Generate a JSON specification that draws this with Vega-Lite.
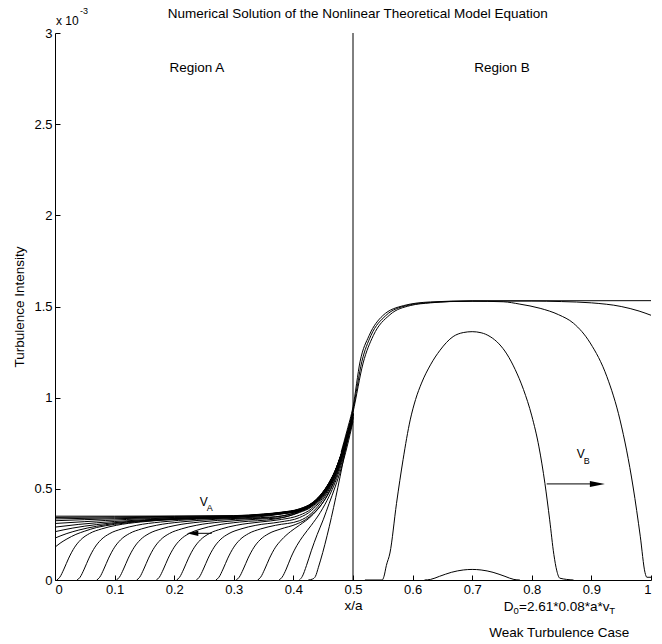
{
  "$schema": "https://vega.github.io/schema/vega-lite/v6.json",
  "width": 596,
  "height": 547,
  "autosize": "none",
  "padding": {"left": 55, "top": 33, "right": 11, "bottom": 64},
  "background": "white",
  "config": {
    "view": {"stroke": null},
    "font": "Liberation Sans",
    "axis": {
      "domainColor": "black", "tickColor": "black", "labelColor": "black", "titleColor": "black",
      "labelFont": "Liberation Sans", "labelFontSize": 13, "titleFont": "Liberation Sans",
      "titleFontSize": 13.5, "titleFontWeight": "normal", "grid": false, "domainWidth": 1, "tickWidth": 1
    },
    "text": {"font": "Liberation Sans", "fontSize": 13.5, "color": "black"}
  },
  "datasets": {
    "one": [{}],
    "curves": [
      {"s":"L9","x":0,"y":0.35},{"s":"L9","x":0.1,"y":0.35},{"s":"L9","x":0.2,"y":0.351},{"s":"L9","x":0.3,"y":0.353},{"s":"L9","x":0.35,"y":0.362},{"s":"L9","x":0.38,"y":0.372},{"s":"L9","x":0.41,"y":0.39},{"s":"L9","x":0.43,"y":0.42},{"s":"L9","x":0.445,"y":0.465},{"s":"L9","x":0.46,"y":0.535},{"s":"L9","x":0.47,"y":0.6},{"s":"L9","x":0.48,"y":0.69},{"s":"L9","x":0.49,"y":0.8},{"s":"L9","x":0.5,"y":0.915},
      {"s":"L8","x":0,"y":0.343},{"s":"L8","x":0.1,"y":0.346},{"s":"L8","x":0.2,"y":0.349},{"s":"L8","x":0.3,"y":0.352},{"s":"L8","x":0.35,"y":0.361},{"s":"L8","x":0.38,"y":0.371},{"s":"L8","x":0.41,"y":0.389},{"s":"L8","x":0.43,"y":0.419},{"s":"L8","x":0.445,"y":0.464},{"s":"L8","x":0.46,"y":0.534},{"s":"L8","x":0.47,"y":0.599},{"s":"L8","x":0.48,"y":0.689},{"s":"L8","x":0.49,"y":0.799},{"s":"L8","x":0.5,"y":0.914},
      {"s":"L7","x":0,"y":0.335},{"s":"L7","x":0.1,"y":0.341},{"s":"L7","x":0.2,"y":0.346},{"s":"L7","x":0.3,"y":0.35},{"s":"L7","x":0.35,"y":0.36},{"s":"L7","x":0.38,"y":0.37},{"s":"L7","x":0.41,"y":0.388},{"s":"L7","x":0.43,"y":0.418},{"s":"L7","x":0.445,"y":0.463},{"s":"L7","x":0.46,"y":0.533},{"s":"L7","x":0.47,"y":0.598},{"s":"L7","x":0.48,"y":0.688},{"s":"L7","x":0.49,"y":0.798},{"s":"L7","x":0.5,"y":0.913},
      {"s":"L6","x":0,"y":0.325},{"s":"L6","x":0.05,"y":0.331},{"s":"L6","x":0.1,"y":0.336},{"s":"L6","x":0.2,"y":0.343},{"s":"L6","x":0.3,"y":0.349},{"s":"L6","x":0.35,"y":0.359},{"s":"L6","x":0.38,"y":0.369},{"s":"L6","x":0.41,"y":0.387},{"s":"L6","x":0.43,"y":0.417},{"s":"L6","x":0.445,"y":0.462},{"s":"L6","x":0.46,"y":0.532},{"s":"L6","x":0.47,"y":0.597},{"s":"L6","x":0.48,"y":0.687},{"s":"L6","x":0.49,"y":0.797},{"s":"L6","x":0.5,"y":0.912},
      {"s":"L5","x":0,"y":0.31},{"s":"L5","x":0.05,"y":0.32},{"s":"L5","x":0.12,"y":0.332},{"s":"L5","x":0.2,"y":0.34},{"s":"L5","x":0.3,"y":0.347},{"s":"L5","x":0.35,"y":0.358},{"s":"L5","x":0.38,"y":0.368},{"s":"L5","x":0.41,"y":0.386},{"s":"L5","x":0.43,"y":0.416},{"s":"L5","x":0.445,"y":0.461},{"s":"L5","x":0.46,"y":0.531},{"s":"L5","x":0.47,"y":0.596},{"s":"L5","x":0.48,"y":0.686},{"s":"L5","x":0.49,"y":0.796},{"s":"L5","x":0.5,"y":0.911},
      {"s":"L4","x":0,"y":0.29},{"s":"L4","x":0.04,"y":0.305},{"s":"L4","x":0.1,"y":0.321},{"s":"L4","x":0.2,"y":0.337},{"s":"L4","x":0.3,"y":0.346},{"s":"L4","x":0.35,"y":0.357},{"s":"L4","x":0.38,"y":0.367},{"s":"L4","x":0.41,"y":0.385},{"s":"L4","x":0.43,"y":0.415},{"s":"L4","x":0.445,"y":0.46},{"s":"L4","x":0.46,"y":0.53},{"s":"L4","x":0.47,"y":0.595},{"s":"L4","x":0.48,"y":0.685},{"s":"L4","x":0.49,"y":0.795},{"s":"L4","x":0.5,"y":0.91},
      {"s":"L3","x":0,"y":0.265},{"s":"L3","x":0.03,"y":0.285},{"s":"L3","x":0.07,"y":0.304},{"s":"L3","x":0.12,"y":0.32},{"s":"L3","x":0.2,"y":0.335},{"s":"L3","x":0.3,"y":0.345},{"s":"L3","x":0.35,"y":0.356},{"s":"L3","x":0.38,"y":0.366},{"s":"L3","x":0.41,"y":0.384},{"s":"L3","x":0.43,"y":0.414},{"s":"L3","x":0.445,"y":0.459},{"s":"L3","x":0.46,"y":0.529},{"s":"L3","x":0.47,"y":0.594},{"s":"L3","x":0.48,"y":0.684},{"s":"L3","x":0.49,"y":0.794},{"s":"L3","x":0.5,"y":0.909},
      {"s":"L2","x":0,"y":0.23},{"s":"L2","x":0.02,"y":0.255},{"s":"L2","x":0.04,"y":0.274},{"s":"L2","x":0.07,"y":0.295},{"s":"L2","x":0.1,"y":0.31},{"s":"L2","x":0.15,"y":0.326},{"s":"L2","x":0.2,"y":0.335},{"s":"L2","x":0.3,"y":0.345},{"s":"L2","x":0.35,"y":0.355},{"s":"L2","x":0.38,"y":0.365},{"s":"L2","x":0.41,"y":0.383},{"s":"L2","x":0.43,"y":0.413},{"s":"L2","x":0.445,"y":0.458},{"s":"L2","x":0.46,"y":0.528},{"s":"L2","x":0.47,"y":0.593},{"s":"L2","x":0.48,"y":0.683},{"s":"L2","x":0.49,"y":0.793},{"s":"L2","x":0.5,"y":0.908},
      {"s":"L1","x":0,"y":0.18},{"s":"L1","x":0.01,"y":0.205},{"s":"L1","x":0.02,"y":0.225},{"s":"L1","x":0.035,"y":0.25},{"s":"L1","x":0.05,"y":0.268},{"s":"L1","x":0.07,"y":0.288},{"s":"L1","x":0.1,"y":0.305},{"s":"L1","x":0.14,"y":0.32},{"s":"L1","x":0.2,"y":0.333},{"s":"L1","x":0.3,"y":0.344},{"s":"L1","x":0.35,"y":0.354},{"s":"L1","x":0.38,"y":0.364},{"s":"L1","x":0.41,"y":0.382},{"s":"L1","x":0.43,"y":0.412},{"s":"L1","x":0.445,"y":0.457},{"s":"L1","x":0.46,"y":0.527},{"s":"L1","x":0.47,"y":0.592},{"s":"L1","x":0.48,"y":0.682},{"s":"L1","x":0.49,"y":0.792},{"s":"L1","x":0.5,"y":0.907},
      {"s":"F1","x":0.003,"y":0},{"s":"F1","x":0.008,"y":0.015},{"s":"F1","x":0.015,"y":0.06},{"s":"F1","x":0.023,"y":0.12},{"s":"F1","x":0.033,"y":0.18},{"s":"F1","x":0.043,"y":0.22},{"s":"F1","x":0.058,"y":0.255},{"s":"F1","x":0.078,"y":0.28},{"s":"F1","x":0.103,"y":0.3},{"s":"F1","x":0.143,"y":0.318},{"s":"F1","x":0.203,"y":0.333},{"s":"F1","x":0.303,"y":0.345},{"s":"F1","x":0.35,"y":0.353},{"s":"F1","x":0.38,"y":0.363},{"s":"F1","x":0.41,"y":0.381},{"s":"F1","x":0.43,"y":0.411},{"s":"F1","x":0.445,"y":0.456},{"s":"F1","x":0.46,"y":0.526},{"s":"F1","x":0.47,"y":0.591},{"s":"F1","x":0.48,"y":0.681},{"s":"F1","x":0.49,"y":0.791},{"s":"F1","x":0.5,"y":0.906},
      {"s":"F2","x":0.037,"y":0},{"s":"F2","x":0.042,"y":0.015},{"s":"F2","x":0.049,"y":0.06},{"s":"F2","x":0.057,"y":0.12},{"s":"F2","x":0.067,"y":0.18},{"s":"F2","x":0.077,"y":0.22},{"s":"F2","x":0.092,"y":0.255},{"s":"F2","x":0.112,"y":0.28},{"s":"F2","x":0.137,"y":0.3},{"s":"F2","x":0.177,"y":0.318},{"s":"F2","x":0.237,"y":0.333},{"s":"F2","x":0.337,"y":0.345},{"s":"F2","x":0.38,"y":0.362},{"s":"F2","x":0.41,"y":0.38},{"s":"F2","x":0.43,"y":0.41},{"s":"F2","x":0.445,"y":0.455},{"s":"F2","x":0.46,"y":0.525},{"s":"F2","x":0.47,"y":0.59},{"s":"F2","x":0.48,"y":0.68},{"s":"F2","x":0.49,"y":0.79},{"s":"F2","x":0.5,"y":0.905},
      {"s":"F3","x":0.07,"y":0},{"s":"F3","x":0.075,"y":0.015},{"s":"F3","x":0.082,"y":0.06},{"s":"F3","x":0.09,"y":0.12},{"s":"F3","x":0.1,"y":0.18},{"s":"F3","x":0.11,"y":0.22},{"s":"F3","x":0.125,"y":0.255},{"s":"F3","x":0.145,"y":0.28},{"s":"F3","x":0.17,"y":0.3},{"s":"F3","x":0.21,"y":0.318},{"s":"F3","x":0.27,"y":0.333},{"s":"F3","x":0.37,"y":0.347},{"s":"F3","x":0.41,"y":0.378},{"s":"F3","x":0.43,"y":0.408},{"s":"F3","x":0.445,"y":0.453},{"s":"F3","x":0.46,"y":0.523},{"s":"F3","x":0.47,"y":0.588},{"s":"F3","x":0.48,"y":0.678},{"s":"F3","x":0.49,"y":0.788},{"s":"F3","x":0.5,"y":0.903},
      {"s":"F4","x":0.103,"y":0},{"s":"F4","x":0.108,"y":0.015},{"s":"F4","x":0.115,"y":0.06},{"s":"F4","x":0.123,"y":0.12},{"s":"F4","x":0.133,"y":0.18},{"s":"F4","x":0.143,"y":0.22},{"s":"F4","x":0.158,"y":0.255},{"s":"F4","x":0.178,"y":0.28},{"s":"F4","x":0.203,"y":0.3},{"s":"F4","x":0.243,"y":0.318},{"s":"F4","x":0.303,"y":0.333},{"s":"F4","x":0.36,"y":0.342},{"s":"F4","x":0.41,"y":0.376},{"s":"F4","x":0.43,"y":0.406},{"s":"F4","x":0.445,"y":0.451},{"s":"F4","x":0.46,"y":0.521},{"s":"F4","x":0.47,"y":0.586},{"s":"F4","x":0.48,"y":0.676},{"s":"F4","x":0.49,"y":0.786},{"s":"F4","x":0.5,"y":0.901},
      {"s":"F5","x":0.137,"y":0},{"s":"F5","x":0.142,"y":0.015},{"s":"F5","x":0.149,"y":0.06},{"s":"F5","x":0.157,"y":0.12},{"s":"F5","x":0.167,"y":0.18},{"s":"F5","x":0.177,"y":0.22},{"s":"F5","x":0.192,"y":0.255},{"s":"F5","x":0.212,"y":0.28},{"s":"F5","x":0.237,"y":0.3},{"s":"F5","x":0.277,"y":0.318},{"s":"F5","x":0.337,"y":0.333},{"s":"F5","x":0.38,"y":0.342},{"s":"F5","x":0.41,"y":0.373},{"s":"F5","x":0.43,"y":0.403},{"s":"F5","x":0.445,"y":0.448},{"s":"F5","x":0.46,"y":0.518},{"s":"F5","x":0.47,"y":0.583},{"s":"F5","x":0.48,"y":0.673},{"s":"F5","x":0.49,"y":0.783},{"s":"F5","x":0.5,"y":0.898},
      {"s":"F6","x":0.17,"y":0},{"s":"F6","x":0.175,"y":0.015},{"s":"F6","x":0.182,"y":0.06},{"s":"F6","x":0.19,"y":0.12},{"s":"F6","x":0.2,"y":0.18},{"s":"F6","x":0.21,"y":0.22},{"s":"F6","x":0.225,"y":0.255},{"s":"F6","x":0.245,"y":0.28},{"s":"F6","x":0.27,"y":0.3},{"s":"F6","x":0.31,"y":0.318},{"s":"F6","x":0.37,"y":0.335},{"s":"F6","x":0.41,"y":0.37},{"s":"F6","x":0.43,"y":0.4},{"s":"F6","x":0.445,"y":0.445},{"s":"F6","x":0.46,"y":0.515},{"s":"F6","x":0.47,"y":0.58},{"s":"F6","x":0.48,"y":0.67},{"s":"F6","x":0.49,"y":0.78},{"s":"F6","x":0.5,"y":0.895},
      {"s":"F7","x":0.204,"y":0},{"s":"F7","x":0.209,"y":0.015},{"s":"F7","x":0.216,"y":0.06},{"s":"F7","x":0.224,"y":0.12},{"s":"F7","x":0.234,"y":0.18},{"s":"F7","x":0.244,"y":0.22},{"s":"F7","x":0.259,"y":0.255},{"s":"F7","x":0.279,"y":0.28},{"s":"F7","x":0.304,"y":0.3},{"s":"F7","x":0.344,"y":0.318},{"s":"F7","x":0.38,"y":0.332},{"s":"F7","x":0.41,"y":0.355},{"s":"F7","x":0.43,"y":0.39},{"s":"F7","x":0.445,"y":0.44},{"s":"F7","x":0.46,"y":0.51},{"s":"F7","x":0.47,"y":0.578},{"s":"F7","x":0.48,"y":0.668},{"s":"F7","x":0.49,"y":0.778},{"s":"F7","x":0.5,"y":0.893},
      {"s":"F8","x":0.237,"y":0},{"s":"F8","x":0.242,"y":0.015},{"s":"F8","x":0.249,"y":0.06},{"s":"F8","x":0.257,"y":0.12},{"s":"F8","x":0.267,"y":0.18},{"s":"F8","x":0.277,"y":0.22},{"s":"F8","x":0.292,"y":0.255},{"s":"F8","x":0.312,"y":0.28},{"s":"F8","x":0.337,"y":0.3},{"s":"F8","x":0.377,"y":0.318},{"s":"F8","x":0.41,"y":0.342},{"s":"F8","x":0.43,"y":0.38},{"s":"F8","x":0.445,"y":0.432},{"s":"F8","x":0.46,"y":0.505},{"s":"F8","x":0.47,"y":0.574},{"s":"F8","x":0.48,"y":0.665},{"s":"F8","x":0.49,"y":0.776},{"s":"F8","x":0.5,"y":0.892},
      {"s":"F9","x":0.27,"y":0},{"s":"F9","x":0.275,"y":0.015},{"s":"F9","x":0.282,"y":0.06},{"s":"F9","x":0.29,"y":0.12},{"s":"F9","x":0.3,"y":0.18},{"s":"F9","x":0.31,"y":0.22},{"s":"F9","x":0.325,"y":0.255},{"s":"F9","x":0.345,"y":0.28},{"s":"F9","x":0.37,"y":0.3},{"s":"F9","x":0.41,"y":0.325},{"s":"F9","x":0.43,"y":0.365},{"s":"F9","x":0.445,"y":0.42},{"s":"F9","x":0.46,"y":0.497},{"s":"F9","x":0.47,"y":0.568},{"s":"F9","x":0.48,"y":0.66},{"s":"F9","x":0.49,"y":0.772},{"s":"F9","x":0.5,"y":0.89},
      {"s":"F10","x":0.304,"y":0},{"s":"F10","x":0.309,"y":0.015},{"s":"F10","x":0.316,"y":0.06},{"s":"F10","x":0.324,"y":0.12},{"s":"F10","x":0.334,"y":0.18},{"s":"F10","x":0.344,"y":0.22},{"s":"F10","x":0.359,"y":0.255},{"s":"F10","x":0.379,"y":0.28},{"s":"F10","x":0.404,"y":0.305},{"s":"F10","x":0.42,"y":0.33},{"s":"F10","x":0.435,"y":0.37},{"s":"F10","x":0.445,"y":0.405},{"s":"F10","x":0.46,"y":0.485},{"s":"F10","x":0.47,"y":0.558},{"s":"F10","x":0.48,"y":0.652},{"s":"F10","x":0.49,"y":0.766},{"s":"F10","x":0.5,"y":0.887},
      {"s":"F11","x":0.34,"y":0},{"s":"F11","x":0.345,"y":0.015},{"s":"F11","x":0.352,"y":0.06},{"s":"F11","x":0.36,"y":0.12},{"s":"F11","x":0.37,"y":0.18},{"s":"F11","x":0.38,"y":0.22},{"s":"F11","x":0.395,"y":0.265},{"s":"F11","x":0.41,"y":0.3},{"s":"F11","x":0.43,"y":0.35},{"s":"F11","x":0.445,"y":0.405},{"s":"F11","x":0.46,"y":0.48},{"s":"F11","x":0.47,"y":0.55},{"s":"F11","x":0.48,"y":0.645},{"s":"F11","x":0.49,"y":0.76},{"s":"F11","x":0.5,"y":0.885},
      {"s":"F12","x":0.376,"y":0},{"s":"F12","x":0.381,"y":0.015},{"s":"F12","x":0.388,"y":0.06},{"s":"F12","x":0.396,"y":0.125},{"s":"F12","x":0.406,"y":0.19},{"s":"F12","x":0.416,"y":0.24},{"s":"F12","x":0.43,"y":0.3},{"s":"F12","x":0.445,"y":0.37},{"s":"F12","x":0.46,"y":0.46},{"s":"F12","x":0.47,"y":0.535},{"s":"F12","x":0.48,"y":0.63},{"s":"F12","x":0.49,"y":0.75},{"s":"F12","x":0.5,"y":0.88},
      {"s":"F13","x":0.41,"y":0},{"s":"F13","x":0.415,"y":0.02},{"s":"F13","x":0.422,"y":0.08},{"s":"F13","x":0.43,"y":0.16},{"s":"F13","x":0.44,"y":0.25},{"s":"F13","x":0.45,"y":0.33},{"s":"F13","x":0.46,"y":0.42},{"s":"F13","x":0.47,"y":0.51},{"s":"F13","x":0.48,"y":0.61},{"s":"F13","x":0.49,"y":0.73},{"s":"F13","x":0.5,"y":0.87},
      {"s":"S0","x":0.425,"y":0},{"s":"S0","x":0.432,"y":0.005},{"s":"S0","x":0.437,"y":0.02},{"s":"S0","x":0.442,"y":0.07},{"s":"S0","x":0.5,"y":0.93},
      {"s":"D1","x":0.62,"y":0},{"s":"D1","x":0.63,"y":0.003},{"s":"D1","x":0.645,"y":0.02},{"s":"D1","x":0.665,"y":0.042},{"s":"D1","x":0.685,"y":0.055},{"s":"D1","x":0.7,"y":0.058},{"s":"D1","x":0.715,"y":0.055},{"s":"D1","x":0.735,"y":0.042},{"s":"D1","x":0.755,"y":0.02},{"s":"D1","x":0.77,"y":0.003},{"s":"D1","x":0.78,"y":0},
      {"s":"D2","x":0.52,"y":0},{"s":"D2","x":0.549,"y":0},{"s":"D2","x":0.552,"y":0.02},{"s":"D2","x":0.556,"y":0.08},{"s":"D2","x":0.562,"y":0.148},{"s":"D2","x":0.573,"y":0.42},{"s":"D2","x":0.584,"y":0.66},{"s":"D2","x":0.596,"y":0.878},{"s":"D2","x":0.605,"y":0.99},{"s":"D2","x":0.615,"y":1.08},{"s":"D2","x":0.63,"y":1.18},{"s":"D2","x":0.646,"y":1.26},{"s":"D2","x":0.668,"y":1.335},{"s":"D2","x":0.685,"y":1.357},{"s":"D2","x":0.7,"y":1.362},{"s":"D2","x":0.715,"y":1.356},{"s":"D2","x":0.73,"y":1.335},{"s":"D2","x":0.745,"y":1.295},{"s":"D2","x":0.758,"y":1.24},{"s":"D2","x":0.772,"y":1.155},{"s":"D2","x":0.786,"y":1.045},{"s":"D2","x":0.8,"y":0.9},{"s":"D2","x":0.812,"y":0.73},{"s":"D2","x":0.822,"y":0.53},{"s":"D2","x":0.83,"y":0.33},{"s":"D2","x":0.837,"y":0.14},{"s":"D2","x":0.842,"y":0.05},{"s":"D2","x":0.847,"y":0.01},{"s":"D2","x":0.87,"y":0},
      {"s":"D3","x":0.485,"y":0.72},{"s":"D3","x":0.5,"y":0.92},{"s":"D3","x":0.517,"y":1.19},{"s":"D3","x":0.534,"y":1.34},{"s":"D3","x":0.562,"y":1.455},{"s":"D3","x":0.596,"y":1.505},{"s":"D3","x":0.63,"y":1.52},{"s":"D3","x":0.663,"y":1.527},{"s":"D3","x":0.7,"y":1.529},{"s":"D3","x":0.752,"y":1.526},{"s":"D3","x":0.78,"y":1.513},{"s":"D3","x":0.814,"y":1.49},{"s":"D3","x":0.845,"y":1.455},{"s":"D3","x":0.87,"y":1.408},{"s":"D3","x":0.898,"y":1.3},{"s":"D3","x":0.926,"y":1.115},{"s":"D3","x":0.948,"y":0.878},{"s":"D3","x":0.97,"y":0.51},{"s":"D3","x":0.982,"y":0.24},{"s":"D3","x":0.99,"y":0.04},{"s":"D3","x":0.993,"y":0.015},{"s":"D3","x":1,"y":0.015},
      {"s":"D4","x":0.48,"y":0.68},{"s":"D4","x":0.49,"y":0.8},{"s":"D4","x":0.5,"y":0.935},{"s":"D4","x":0.515,"y":1.2},{"s":"D4","x":0.53,"y":1.34},{"s":"D4","x":0.555,"y":1.45},{"s":"D4","x":0.59,"y":1.505},{"s":"D4","x":0.63,"y":1.522},{"s":"D4","x":0.7,"y":1.53},{"s":"D4","x":0.8,"y":1.53},{"s":"D4","x":0.85,"y":1.527},{"s":"D4","x":0.9,"y":1.52},{"s":"D4","x":0.95,"y":1.5},{"s":"D4","x":0.98,"y":1.475},{"s":"D4","x":1,"y":1.452},
      {"s":"D5","x":0.48,"y":0.7},{"s":"D5","x":0.49,"y":0.82},{"s":"D5","x":0.5,"y":0.95},{"s":"D5","x":0.512,"y":1.2},{"s":"D5","x":0.527,"y":1.34},{"s":"D5","x":0.55,"y":1.45},{"s":"D5","x":0.585,"y":1.505},{"s":"D5","x":0.63,"y":1.525},{"s":"D5","x":0.7,"y":1.531},{"s":"D5","x":1,"y":1.532}
    ]
  },
  "layer": [
    {
      "data": {"name": "curves"},
      "mark": {"type": "line", "color": "black", "strokeWidth": 1, "interpolate": "monotone"},
      "encoding": {
        "x": {"field": "x", "type": "quantitative", "scale": {"domain": [0, 1], "nice": false, "zero": false},
          "axis": {"values": [0,0.1,0.2,0.3,0.4,0.5,0.6,0.7,0.8,0.9,1], "format": "~g", "title": "x/a", "tickSize": -5, "labelPadding": 8, "titlePadding": 2}},
        "y": {"field": "y", "type": "quantitative", "scale": {"domain": [0, 3], "nice": false},
          "axis": {"values": [0,0.5,1,1.5,2,2.5,3], "format": "~g", "title": "Turbulence Intensity", "tickSize": -5, "labelPadding": 8, "titlePadding": 7}},
        "detail": {"field": "s", "type": "nominal"}
      }
    },
    {"data": {"name": "one"}, "mark": {"type": "rule", "color": "black", "strokeWidth": 1}, "encoding": {"x": {"datum": 0.5}}},
    {"data": {"name": "one"}, "mark": {"type": "rule", "color": "black", "strokeWidth": 1}, "encoding": {"x": {"datum": 0.235}, "x2": {"datum": 0.263}, "y": {"datum": 0.256}}},
    {"data": {"name": "one"}, "mark": {"type": "point", "shape": "M -1 0 L 1 -0.45 L 1 0.45 Z", "filled": true, "color": "black", "opacity": 1, "size": 135}, "encoding": {"x": {"datum": 0.2307}, "y": {"datum": 0.256}}},
    {"data": {"name": "one"}, "mark": {"type": "rule", "color": "black", "strokeWidth": 1}, "encoding": {"x": {"datum": 0.825}, "x2": {"datum": 0.905}, "y": {"datum": 0.527}}},
    {"data": {"name": "one"}, "mark": {"type": "point", "shape": "M 1 0 L -1 -0.4 L -1 0.4 Z", "filled": true, "color": "black", "opacity": 1, "size": 225}, "encoding": {"x": {"datum": 0.91}, "y": {"datum": 0.527}}},
    {"data": {"name": "one"}, "mark": {"type": "text", "text": "V", "fontSize": 12, "align": "center", "baseline": "middle"}, "encoding": {"x": {"datum": 0.2495}, "y": {"datum": 0.43}}},
    {"data": {"name": "one"}, "mark": {"type": "text", "text": "A", "fontSize": 9, "align": "left", "baseline": "middle"}, "encoding": {"x": {"datum": 0.2545}, "y": {"datum": 0.395}}},
    {"data": {"name": "one"}, "mark": {"type": "text", "text": "V", "fontSize": 12, "align": "center", "baseline": "middle"}, "encoding": {"x": {"datum": 0.882}, "y": {"datum": 0.69}}},
    {"data": {"name": "one"}, "mark": {"type": "text", "text": "B", "fontSize": 9, "align": "left", "baseline": "middle"}, "encoding": {"x": {"datum": 0.887}, "y": {"datum": 0.655}}},
    {"data": {"name": "one"}, "mark": {"type": "text", "text": "Region A", "align": "center", "baseline": "middle"}, "encoding": {"x": {"datum": 0.238}, "y": {"datum": 2.81}}},
    {"data": {"name": "one"}, "mark": {"type": "text", "text": "Region B", "align": "center", "baseline": "middle"}, "encoding": {"x": {"datum": 0.75}, "y": {"datum": 2.81}}},
    {"data": {"name": "one"}, "mark": {"type": "text", "text": "Numerical Solution of the Nonlinear Theoretical Model Equation", "align": "center", "baseline": "middle", "dy": -19}, "encoding": {"x": {"datum": 0.508}, "y": {"datum": 3}}},
    {"data": {"name": "one"}, "mark": {"type": "text", "text": "x 10", "fontSize": 12, "align": "left", "baseline": "middle", "dx": 1, "dy": -12}, "encoding": {"x": {"datum": 0}, "y": {"datum": 3}}},
    {"data": {"name": "one"}, "mark": {"type": "text", "text": "-3", "fontSize": 9, "align": "left", "baseline": "middle", "dx": 25, "dy": -22}, "encoding": {"x": {"datum": 0}, "y": {"datum": 3}}},
    {"data": {"name": "one"}, "mark": {"type": "text", "text": "D", "fontSize": 13.5, "align": "left", "baseline": "middle"}, "encoding": {"x": {"datum": 0.753}, "y": {"datum": -0.15}}},
    {"data": {"name": "one"}, "mark": {"type": "text", "text": "0", "fontSize": 9.5, "align": "left", "baseline": "middle", "dx": 9.8, "dy": 4}, "encoding": {"x": {"datum": 0.753}, "y": {"datum": -0.15}}},
    {"data": {"name": "one"}, "mark": {"type": "text", "text": "=2.61*0.08*a*v", "fontSize": 13.5, "align": "left", "baseline": "middle", "dx": 15.3}, "encoding": {"x": {"datum": 0.753}, "y": {"datum": -0.15}}},
    {"data": {"name": "one"}, "mark": {"type": "text", "text": "T", "fontSize": 9.5, "align": "left", "baseline": "middle", "dx": 105.5, "dy": 4}, "encoding": {"x": {"datum": 0.753}, "y": {"datum": -0.15}}},
    {"data": {"name": "one"}, "mark": {"type": "text", "text": "Weak Turbulence Case", "align": "center", "baseline": "middle"}, "encoding": {"x": {"datum": 0.846}, "y": {"datum": -0.29}}}
  ]
}
